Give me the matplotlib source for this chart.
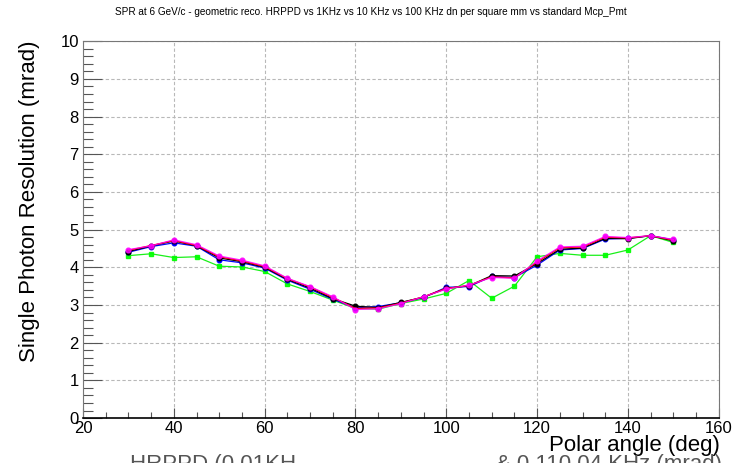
import matplotlib
matplotlib.use("Agg")
import matplotlib.pyplot as plt
from matplotlib.ticker import MultipleLocator

plt.rcParams['font.family'] = ['Liberation Sans', 'DejaVu Sans']

# polar angle (deg)
angles = [30, 35, 40, 45, 50, 55, 60, 65, 70, 75, 80, 85, 90,
          95, 100, 105, 110, 115, 120, 125, 130, 135, 140, 145, 150]

# single photon resolution (mrad)
spr_black = [4.42, 4.57, 4.70, 4.57, 4.25, 4.15, 4.00, 3.68, 3.45, 3.17, 2.97, 2.93, 3.07,
             3.21, 3.44, 3.51, 3.78, 3.77, 4.10, 4.48, 4.51, 4.77, 4.76, 4.84, 4.70]
spr_blue = [4.40, 4.55, 4.65, 4.56, 4.20, 4.12, 3.98, 3.66, 3.42, 3.15, 2.93, 2.96, 3.06,
            3.20, 3.47, 3.49, 3.76, 3.73, 4.06, 4.46, 4.50, 4.75, 4.77, 4.84, 4.73]
spr_red = [4.45, 4.58, 4.71, 4.58, 4.28, 4.17, 4.02, 3.70, 3.48, 3.20, 2.91, 2.92, 3.05,
           3.22, 3.44, 3.52, 3.75, 3.72, 4.14, 4.52, 4.54, 4.80, 4.78, 4.84, 4.72]
spr_magenta = [4.47, 4.57, 4.73, 4.60, 4.30, 4.19, 4.04, 3.71, 3.49, 3.22, 2.88, 2.90, 3.04,
               3.22, 3.42, 3.53, 3.73, 3.71, 4.17, 4.54, 4.56, 4.82, 4.79, 4.84, 4.74]
spr_green = [4.31, 4.36, 4.26, 4.28, 4.03, 4.01, 3.89, 3.56, 3.36, 3.13, 2.91, 2.89, 3.04,
             3.16, 3.31, 3.65, 3.18, 3.50, 4.28, 4.37, 4.32, 4.32, 4.46, 4.84, 4.66]

title = ("SPR at 6 GeV/c - geometric reco. HRPPD vs 1KHz vs 10 KHz vs 100 KHz "
         "dn per square mm vs standard Mcp_Pmt")

fig = plt.figure(figsize=(7.41, 4.63), dpi=100)
ax = fig.add_axes([0.112, 0.097, 0.858, 0.814])

# green first so the others sit on top
ax.plot(angles, spr_green, color="#00ee00", lw=0.9, marker="s", ms=3.0,
        mfc="#00ff00", mec="#00ff00", alpha=0.9, zorder=3)
ax.plot(angles, spr_blue, color="#0000ff", lw=0.9, marker="o", ms=3.3, zorder=4)
ax.plot(angles, spr_black, color="black", lw=0.9, marker="o", ms=3.3, zorder=5)
ax.plot(angles, spr_red, color="#ff0000", lw=0.9, zorder=6)
ax.plot(angles, spr_magenta, color="#ff00ff", lw=0.9, marker="o", ms=3.4, alpha=0.85, zorder=7)

ax.set_xlim(20, 160)
ax.set_ylim(0, 10)
ax.xaxis.set_major_locator(MultipleLocator(20))
ax.xaxis.set_minor_locator(MultipleLocator(5))
ax.yaxis.set_major_locator(MultipleLocator(1))
ax.yaxis.set_minor_locator(MultipleLocator(0.2))

ax.grid(True, which="major", color="#b8b8b8", lw=0.8, linestyle=(0, (3, 2)))
ax.tick_params(axis="both", which="both", direction="in", labelsize=12,
               top=False, right=False, width=0.8, color="#555555")
ax.tick_params(axis="x", which="major", length=7, pad=2)
ax.tick_params(axis="x", which="minor", length=4)
ax.tick_params(axis="y", which="major", length=14, pad=3)
ax.tick_params(axis="y", which="minor", length=7)
for sp in ax.spines.values():
    sp.set_linewidth(0.8)
    sp.set_color("#777777")
ax.spines["bottom"].set_color("black")
ax.spines["bottom"].set_linewidth(1.2)

ax.set_ylabel("Single Photon Resolution (mrad)", fontsize=16)
ax.yaxis.set_label_coords(-0.068, 0.575)
fig.text(0.972, 0.038, "Polar angle (deg)", fontsize=16, ha="right", va="center")

fig.suptitle(title, fontsize=7.2, y=0.985)

# cut-off text at the bottom edge
fig.text(0.175, -0.003, "HRPPD (0.01KH", fontsize=16, color="#555555", ha="left", va="center")
fig.text(0.975, -0.003, "& 0 110.04 KHz (mrad)", fontsize=16, color="#555555",
         ha="right", va="center")

fig.savefig("out.png", dpi=100)
